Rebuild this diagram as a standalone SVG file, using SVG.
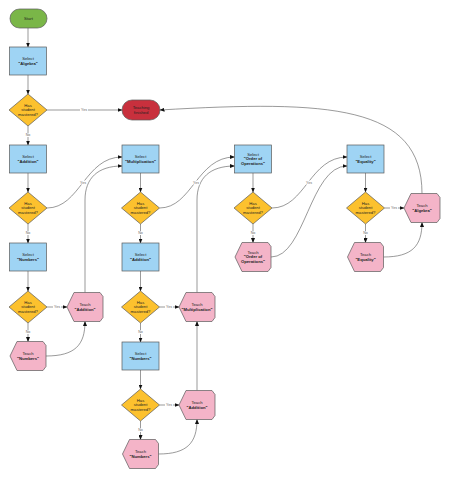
<svg xmlns="http://www.w3.org/2000/svg" width="450" height="478" viewBox="0 0 450 478">
<style>
text{font-family:"Liberation Sans",Arial,sans-serif;font-size:4.2px;fill:#222;text-anchor:middle}
.b{font-weight:bold}
.sel{fill:#9fd4f4;stroke:#5a5a5a;stroke-width:0.7}
.dia{fill:#fcc12e;stroke:#5a5a5a;stroke-width:0.7}
.tch{fill:#f4b4c8;stroke:#5a5a5a;stroke-width:0.7}
.start{fill:#7ab648;stroke:#5a5a5a;stroke-width:0.7}
.end{fill:#c8303d;stroke:#5a5a5a;stroke-width:0.7}
.c{fill:none;stroke:#555;stroke-width:0.6;marker-end:url(#ah)}
.lb{fill:#fff}
.lt{font-size:3.6px;fill:#666}
</style>
<defs>
<marker id="ah" markerUnits="userSpaceOnUse" markerWidth="5" markerHeight="4" refX="4.5" refY="2" orient="auto"><path d="M0,0 L5,2 L0,4 z" fill="#111"/></marker>
<rect id="box" class="sel" x="-18.5" y="-14" width="37" height="28"/>
<path id="dm" class="dia" d="M0,-16 L19,0 L0,16 L-19,0 z"/>
<path id="tc" class="tch" d="M-18,0 L-11,-14.5 L15,-14.5 L18,-10.5 L18,10.5 L15,14.5 L-11,14.5 z"/>
<g id="dtext"><text y="-3.3">Has</text><text y="1.2">student</text><text y="5.7">mastered?</text></g>
</defs>

<g id="connectors">
<path class="c" d="M28,28 L28,47"/>
<path class="c" d="M28,75 L28,94"/>
<path class="c" d="M47,110 L122,110"/>
<path class="c" d="M28,126 L28,145"/>
<path class="c" d="M28,173 L28,192"/>
<path class="c" d="M47,208 C80,208 85,157 122,157"/>
<path class="c" d="M28,224 L28,243"/>
<path class="c" d="M28,271 L28,291"/>
<path class="c" d="M47,307 L67,307"/>
<path class="c" d="M28,323 L28,341.5"/>
<path class="c" d="M46,356 C75,356 85,345 85,321.5"/>
<path class="c" d="M85,292.5 L85,200 C85,178 98,166 122,166"/>

<path class="c" d="M140.5,173 L140.5,192"/>
<path class="c" d="M159.5,208 C192,208 197,157 234.5,157"/>
<path class="c" d="M140.5,224 L140.5,243"/>
<path class="c" d="M140.5,271 L140.5,291"/>
<path class="c" d="M159.5,307 L179,307"/>
<path class="c" d="M140.5,323 L140.5,342"/>
<path class="c" d="M140.5,370 L140.5,389"/>
<path class="c" d="M159.5,405 L179,405"/>
<path class="c" d="M140.5,421 L140.5,439.5"/>
<path class="c" d="M158.5,454 C187,454 197,443 197,419.5"/>
<path class="c" d="M197,390.5 L197,321.5"/>
<path class="c" d="M197,292.5 L197,200 C197,178 210,166 234.5,166"/>

<path class="c" d="M253,173 L253,192"/>
<path class="c" d="M272,208 C305,208 310,157 347,157"/>
<path class="c" d="M253,224 L253,242.5"/>
<path class="c" d="M271,257 C305,257 310,166 347,166"/>

<path class="c" d="M365.5,173 L365.5,192"/>
<path class="c" d="M384.5,208 L404,208"/>
<path class="c" d="M365.5,224 L365.5,242.5"/>
<path class="c" d="M383.5,257 C412,257 422,246 422,222.5"/>
<path class="c" d="M422,193.5 C422,105 330,100 160,110"/>

<g id="labels">
<rect class="lb" x="80" y="108" width="8" height="4"/><text class="lt" x="84" y="111.3">Yes</text>
<rect class="lb" x="25" y="133" width="6" height="4"/><text class="lt" x="28" y="136.3">No</text>
<rect class="lb" x="79" y="180.5" width="8" height="4"/><text class="lt" x="83" y="183.8">Yes</text>
<rect class="lb" x="25" y="231" width="6" height="4"/><text class="lt" x="28" y="234.3">No</text>
<rect class="lb" x="53" y="305" width="8" height="4"/><text class="lt" x="57" y="308.3">Yes</text>
<rect class="lb" x="25" y="330" width="6" height="4"/><text class="lt" x="28" y="333.3">No</text>

<rect class="lb" x="192" y="180.5" width="8" height="4"/><text class="lt" x="196" y="183.8">Yes</text>
<rect class="lb" x="137.5" y="231" width="6" height="4"/><text class="lt" x="140.5" y="234.3">No</text>
<rect class="lb" x="165" y="305" width="8" height="4"/><text class="lt" x="169" y="308.3">Yes</text>
<rect class="lb" x="137.5" y="330" width="6" height="4"/><text class="lt" x="140.5" y="333.3">No</text>
<rect class="lb" x="165" y="403" width="8" height="4"/><text class="lt" x="169" y="406.3">Yes</text>
<rect class="lb" x="137.5" y="428" width="6" height="4"/><text class="lt" x="140.5" y="431.3">No</text>

<rect class="lb" x="305" y="180.5" width="8" height="4"/><text class="lt" x="309" y="183.8">Yes</text>
<rect class="lb" x="250" y="231" width="6" height="4"/><text class="lt" x="253" y="234.3">No</text>
<rect class="lb" x="390" y="206" width="8" height="4"/><text class="lt" x="394" y="209.3">Yes</text>
<rect class="lb" x="362.5" y="231" width="6" height="4"/><text class="lt" x="365.5" y="234.3">No</text>
</g>
</g>

<g id="start" transform="translate(28.5,18.5)"><rect class="start" x="-18.5" y="-9.5" width="37" height="19" rx="9.5"/><text y="1.5">Start</text></g>
<g id="sel-algebra" transform="translate(28,61)"><use href="#box"/><text y="-1">Select</text><text class="b" y="3.5">"Algebra"</text></g>
<g id="d1" transform="translate(28,110)"><use href="#dm"/><use href="#dtext"/></g>
<g id="finished" transform="translate(141,110)"><rect class="end" x="-19" y="-10" width="38" height="20" rx="10"/><text y="-0.8">Teaching</text><text y="3.7">finished</text></g>
<g id="sel-addition" transform="translate(28,159)"><use href="#box"/><text y="-1">Select</text><text class="b" y="3.5">"Addition"</text></g>
<g id="d2" transform="translate(28,208)"><use href="#dm"/><use href="#dtext"/></g>
<g id="sel-numbers" transform="translate(28,257)"><use href="#box"/><text y="-1">Select</text><text class="b" y="3.5">"Numbers"</text></g>
<g id="d3" transform="translate(28,307)"><use href="#dm"/><use href="#dtext"/></g>
<g id="teach-numbers" transform="translate(28,356)"><use href="#tc"/><text y="-1">Teach</text><text class="b" y="3.5">"Numbers"</text></g>
<g id="teach-addition" transform="translate(85,307)"><use href="#tc"/><text y="-1">Teach</text><text class="b" y="3.5">"Addition"</text></g>

<g id="sel-multiplication" transform="translate(140.5,159)"><use href="#box"/><text y="-1">Select</text><text class="b" y="3.5">"Multiplication"</text></g>
<g id="d4" transform="translate(140.5,208)"><use href="#dm"/><use href="#dtext"/></g>
<g id="sel-addition-2" transform="translate(140.5,257)"><use href="#box"/><text y="-1">Select</text><text class="b" y="3.5">"Addition"</text></g>
<g id="d5" transform="translate(140.5,307)"><use href="#dm"/><use href="#dtext"/></g>
<g id="sel-numbers-2" transform="translate(140.5,356)"><use href="#box"/><text y="-1">Select</text><text class="b" y="3.5">"Numbers"</text></g>
<g id="d6" transform="translate(140.5,405)"><use href="#dm"/><use href="#dtext"/></g>
<g id="teach-numbers-2" transform="translate(140.5,454)"><use href="#tc"/><text y="-1">Teach</text><text class="b" y="3.5">"Numbers"</text></g>
<g id="teach-multiplication" transform="translate(197,307)"><use href="#tc"/><text y="-1">Teach</text><text class="b" y="3.5">"Multiplication"</text></g>
<g id="teach-addition-2" transform="translate(197,405)"><use href="#tc"/><text y="-1">Teach</text><text class="b" y="3.5">"Addition"</text></g>

<g id="sel-order" transform="translate(253,159)"><use href="#box"/><text y="-3.3">Select</text><text class="b" y="1.2">"Order of</text><text class="b" y="5.7">Operations"</text></g>
<g id="d7" transform="translate(253,208)"><use href="#dm"/><use href="#dtext"/></g>
<g id="teach-order" transform="translate(253,257)"><use href="#tc"/><text y="-3.3">Teach</text><text class="b" y="1.2">"Order of</text><text class="b" y="5.7">Operations"</text></g>

<g id="sel-equality" transform="translate(365.5,159)"><use href="#box"/><text y="-1">Select</text><text class="b" y="3.5">"Equality"</text></g>
<g id="d8" transform="translate(365.5,208)"><use href="#dm"/><use href="#dtext"/></g>
<g id="teach-equality" transform="translate(365.5,257)"><use href="#tc"/><text y="-1">Teach</text><text class="b" y="3.5">"Equality"</text></g>
<g id="teach-algebra" transform="translate(422,208)"><use href="#tc"/><text y="-1">Teach</text><text class="b" y="3.5">"Algebra"</text></g>
</svg>
